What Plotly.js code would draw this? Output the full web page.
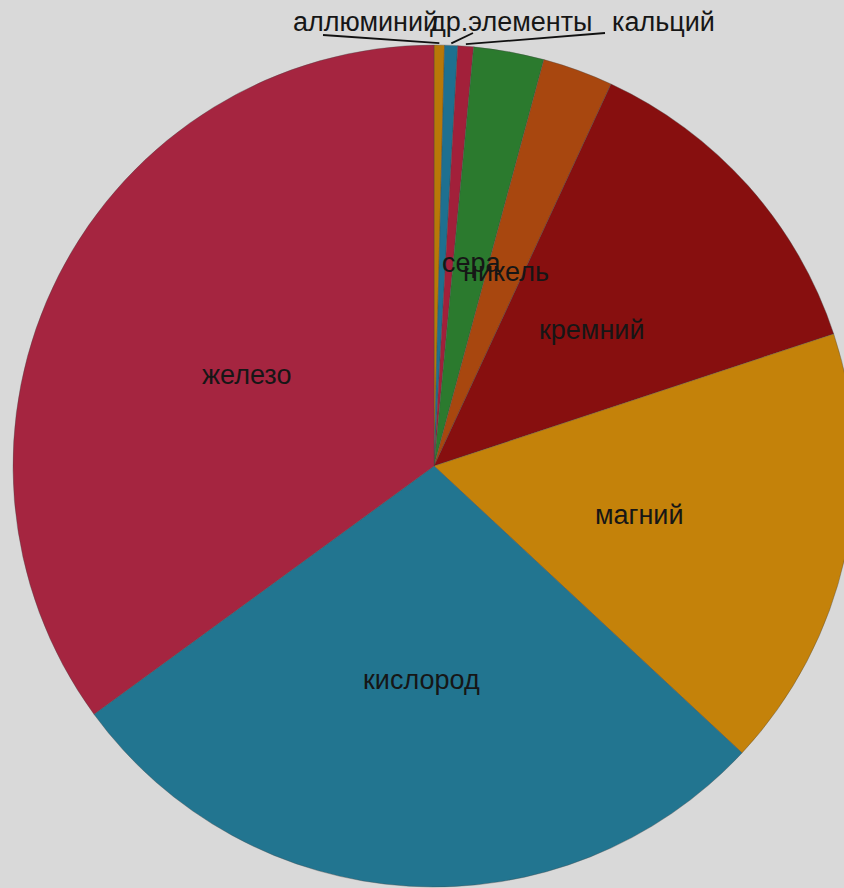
<!DOCTYPE html>
<html>
<head>
<meta charset="utf-8">
<script src="https://cdn.plot.ly/plotly-3.0.1.min.js"></script>
<style>
html,body{margin:0;padding:0;overflow:hidden;background:#d9d9d9;}
#chart{width:860px;height:900px;}
</style>
</head>
<body>
<div id="chart"></div>
<script>
// Data
const labels = ['аллюминий','др.элементы','кальций','сера','никель','кремний','магний','кислород','железо'];
const values = [0.4, 0.5, 0.6, 2.7, 2.7, 13, 17, 28, 35];
const colors = ['#b87808','#1e7090','#a2203a','#2b7a2e','#a8470f','#870f0f','#c4820a','#227590','#a52540'];
const outsideLabels = ['аллюминий','др.элементы','кальций'];

const W = 860, H = 900;
const cx = 434, cy = 466, R = 421;
const fx = px => px / W;
const fy = py => 1 - py / H;

const total = values.reduce((a,b)=>a+b,0);
let cum = 0;
const mids = values.map(v => { const m = (cum + v/2) / total; cum += v; return m * 2 * Math.PI; });

const annotations = [];
const shapes = [];
const font = {family:'Liberation Sans, Arial, sans-serif', size:27, color:'#161616'};

// label anchor positions for the outside labels (text centre, leader start)
const outsidePos = {
  'аллюминий':  {tx:365, ty:22, lx:323, ly:35},
  'др.элементы':{tx:511, ty:22, lx:473, ly:33},
  'кальций':    {tx:663, ty:22, lx:605, ly:33}
};

labels.forEach((lab, i) => {
  const a = mids[i];
  if (outsideLabels.includes(lab)) {
    const p = outsidePos[lab];
    const ex = cx + (R+2) * Math.sin(a), ey = cy - (R+2) * Math.cos(a);
    shapes.push({type:'line', xref:'paper', yref:'paper', x0:fx(p.lx), y0:fy(p.ly), x1:fx(ex), y1:fy(ey), line:{color:'#111', width:1.8}});
    annotations.push({xref:'paper', yref:'paper', x:fx(p.tx), y:fy(p.ty), text:lab, showarrow:false, xanchor:'center', yanchor:'middle', font:font});
  } else {
    const tx = cx + 0.5 * R * Math.sin(a), ty = cy - 0.5 * R * Math.cos(a) + 4;
    annotations.push({xref:'paper', yref:'paper', x:fx(tx), y:fy(ty), text:lab, showarrow:false, xanchor:'center', yanchor:'middle', font:font});
  }
});

const trace = {
  type:'pie',
  labels: labels,
  values: values,
  sort:false,
  direction:'clockwise',
  rotation:0,
  textinfo:'none',
  hoverinfo:'label+value',
  marker:{colors:colors, line:{color:'rgba(70,70,70,0.6)', width:0.6}},
  domain:{x:[fx(cx-R), fx(cx+R)], y:[fy(cy+R), fy(cy-R)]},
  showlegend:false
};

Plotly.newPlot('chart', [trace], {
  width:W, height:H,
  margin:{l:0,r:0,t:0,b:0},
  paper_bgcolor:'#d9d9d9',
  plot_bgcolor:'#d9d9d9',
  showlegend:false,
  annotations:annotations,
  shapes:shapes
}, {staticPlot:true});
</script>
</body>
</html>
